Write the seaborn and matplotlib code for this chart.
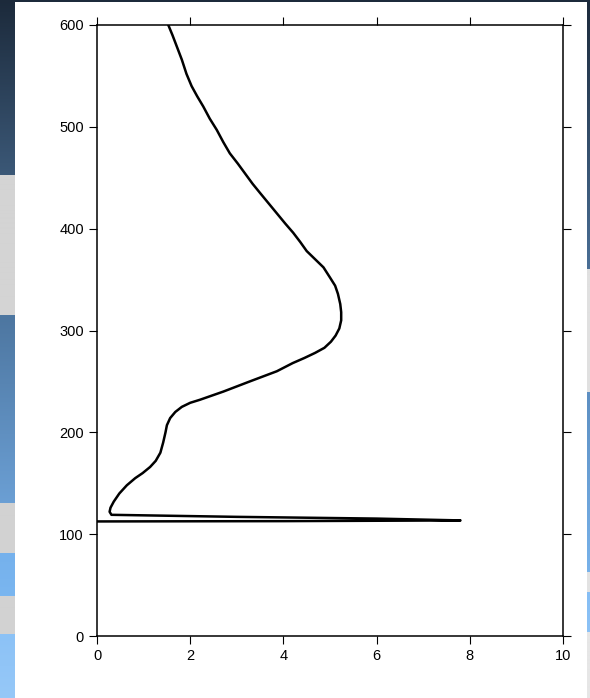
import numpy as np
import pandas as pd
import matplotlib
matplotlib.use("Agg")
import matplotlib.pyplot as plt
import seaborn as sns

# Profile: value (x) against height (y), traced from top to bottom
value = [1.53, 1.62, 1.72, 1.82, 1.92, 2.03, 2.15, 2.28, 2.42,
         2.57, 2.71, 2.85, 3.02, 3.18, 3.34, 3.50, 3.68, 3.86, 4.04, 4.21,
         4.36, 4.50, 4.68, 4.86, 5.00, 5.11, 5.17, 5.22, 5.24, 5.24, 5.20,
         5.12, 5.02, 4.88, 4.68, 4.45, 4.20, 3.86, 3.28, 2.71, 2.21, 2.00,
         1.82, 1.68, 1.57, 1.50, 1.47, 1.42, 1.36, 1.26, 1.14, 0.98, 0.82,
         0.64, 0.48, 0.36, 0.29, 0.27, 0.31,
         3.00, 6.00, 7.80, 4.00, 0.00]
height = [600, 590, 578, 566, 552, 540, 530, 520, 508,
          497, 485, 474, 464, 454, 444, 435, 425, 415, 405, 396,
          387, 378, 370, 362, 352, 344, 336, 326, 318, 310, 302,
          295, 289, 283, 278, 273, 268, 260, 250, 240, 232, 229,
          225, 220, 214, 207, 200, 190, 180, 172, 166, 160, 155,
          148, 140, 132, 126, 122, 119,
          117.0, 115.3, 113.5, 112.8, 112.5]

x_ticks = [0, 2, 4, 6, 8, 10]
y_ticks = [0, 100, 200, 300, 400, 500, 600]

df = pd.DataFrame({"value": value, "height": height})

sns.set_style("ticks")
plt.rcParams["font.family"] = ["Liberation Sans", "DejaVu Sans"]

W, H = 590, 698
fig = plt.figure(figsize=(W / 100, H / 100), dpi=100)
fig.patch.set_facecolor("#1c2a3b")

# Slide backdrop strips on both sides of the white panel
def strip(bands, n=698):
    img = np.zeros((n, 1, 3))
    for (y0, y1, c0, c1) in bands:
        c0 = np.array(matplotlib.colors.to_rgb(c0))
        c1 = np.array(matplotlib.colors.to_rgb(c1))
        for yy in range(y0, min(y1, n)):
            t = (yy - y0) / max(1, (y1 - y0 - 1))
            img[yy, 0] = c0 * (1 - t) + c1 * t
    return img

left_bands = [(0, 175, "#1c2a3b", "#3b5877"), (175, 315, "#d4d4d4", "#d4d4d4"),
              (315, 503, "#4d76a0", "#6b9fd4"), (503, 553, "#d2d2d2", "#d2d2d2"),
              (553, 596, "#75b1ec", "#7ab6f0"), (596, 634, "#d2d2d2", "#d2d2d2"),
              (634, 698, "#8cc2f6", "#96c8f8")]
right_bands = [(0, 269, "#1c2a3b", "#4a6f96"), (269, 392, "#e0e0e0", "#e0e0e0"),
               (392, 572, "#5d8fc2", "#78b2ea"), (572, 592, "#e2e2e2", "#e2e2e2"),
               (592, 632, "#86bef4", "#8cc2f6"), (632, 698, "#e6e6e6", "#e6e6e6")]

bl = fig.add_axes([0, 0, 15 / W, 1])
bl.imshow(strip(left_bands), aspect="auto", interpolation="nearest")
bl.axis("off")
br = fig.add_axes([587 / W, 0, 3 / W, 1])
br.imshow(strip(right_bands), aspect="auto", interpolation="nearest")
br.axis("off")

# White panel
panel = fig.add_axes([15 / W, 0, 572 / W, 696 / H])
panel.set_facecolor("white")
panel.set_xticks([])
panel.set_yticks([])
for s in panel.spines.values():
    s.set_visible(False)

# Main plot
ax = fig.add_axes([97 / W, 62 / H, 466 / W, 611 / H])
ax.set_facecolor("white")
sns.lineplot(data=df, x="value", y="height", sort=False, estimator=None,
             color="black", linewidth=1.8, ax=ax)

ax.set_xlim(0, 10)
ax.set_ylim(0, 600)
ax.set_xticks(x_ticks)
ax.set_yticks(y_ticks)
ax.set_xticklabels([str(t) for t in x_ticks])
ax.set_yticklabels([str(t) for t in y_ticks])
ax.set_xlabel("")
ax.set_ylabel("")
for s in ax.spines.values():
    s.set_visible(True)
    s.set_linewidth(1.1)
    s.set_color("black")
ax.tick_params(axis="both", which="both", direction="out", length=5.5, width=0.8,
               colors="black", labelsize=10.5, top=True, right=True,
               labeltop=False, labelright=False, pad=4)

fig.savefig("out.png", dpi=100, facecolor=fig.get_facecolor())
